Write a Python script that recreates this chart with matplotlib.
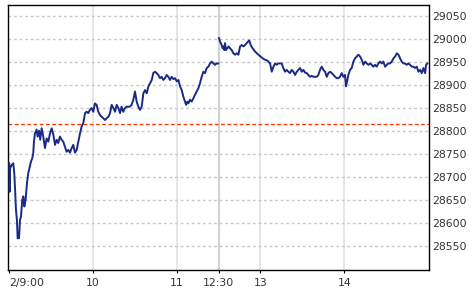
import matplotlib
matplotlib.use("Agg")
import matplotlib.pyplot as plt

# trading minutes since 9:00, lunch break (11:30-12:30) removed
minutes = [
    0, 0.3, 0.6, 1.7, 2.9, 3.6, 4.3, 4.8, 5.5, 6.0, 7.0, 7.7, 8.4, 9.3, 10.1,
    10.8, 11.7, 12.7, 13.6, 14.8, 15.6, 16.5, 17.2, 17.7, 18.4, 19.6, 20.3,
    21.3, 22.2, 23.2, 24.4, 25.6, 26.8, 28.0, 29.2, 30.4, 31.6, 32.8, 34.0,
    35.1, 36.3, 37.5, 38.7, 39.9, 41.1, 42.3, 43.5, 44.7, 45.9, 47.1, 48.3,
    49.5, 50.7, 51.9, 53.1, 54.3, 55.5, 56.6, 57.8, 59.0, 60.2, 61.4, 62.6,
    63.8, 65.0, 66.2, 67.4, 68.6, 69.8, 71.0, 72.2, 73.4, 74.6, 75.8, 77.0,
    78.2, 79.4, 80.5, 81.7, 82.9, 84.1, 85.3, 86.5, 87.7, 88.9, 90.1, 91.3,
    92.5, 93.7, 94.9, 96.1, 97.3, 98.5, 99.7, 100.9, 102.1, 103.2, 104.4,
    105.6, 106.8, 108.0, 109.2, 110.4, 111.6, 112.8, 114.0, 115.2, 116.4,
    117.6, 118.8, 120.0, 121.2, 122.4, 123.6, 124.7, 125.9, 126.7, 127.6,
    128.3, 129.5, 130.7, 131.9, 133.1, 134.3, 135.5, 136.7, 137.9, 139.1,
    140.3, 141.5, 142.7, 143.9, 145.1, 146.3, 147.5, 148.6, 149.8,
    150.3, 151.0, 152.2, 152.9, 153.4, 154.1, 154.6, 155.3, 156.3, 157.2,
    158.2, 159.4, 160.6, 161.8, 163.0, 164.2, 165.4, 166.6, 167.8, 169.0,
    170.1, 171.3, 172.0, 173.0, 174.4, 176.1, 177.8, 179.7, 181.6, 183.3,
    185.0, 186.9, 188.1, 189.3, 190.5, 191.6, 192.8, 195.2, 196.4, 197.6,
    198.8, 200.0, 201.2, 202.4, 203.6, 204.8, 206.0, 207.2, 208.4, 209.6,
    210.8, 212.0, 213.2, 214.3, 215.5, 216.7, 217.9, 219.1, 220.3, 221.5,
    222.7, 223.9, 225.1, 226.3, 227.5, 228.7, 229.9, 231.1, 232.3, 233.5,
    234.7, 235.8, 237.0, 238.2, 239.4, 240.6, 241.3, 242.3, 243.0, 244.2,
    245.4, 246.6, 247.8, 249.0, 250.2, 251.4, 252.6, 253.8, 255.0, 256.2,
    257.4, 258.6, 259.7, 260.9, 262.1, 263.3, 264.5, 265.7, 266.9, 268.1,
    269.3, 270.5, 271.7, 272.9, 274.1, 275.3, 276.5, 277.7, 278.9, 280.1,
    281.2, 282.4, 283.6, 284.8, 286.0, 287.2, 288.4, 289.6, 290.8, 292.0,
    293.2, 294.4, 295.6, 296.8, 298.0, 298.7, 299.6,
]
prices = [
    28729, 28667, 28718, 28725, 28729, 28707, 28664, 28628, 28606, 28566,
    28566, 28606, 28613, 28649, 28657, 28635, 28649, 28686, 28707, 28722,
    28733, 28740, 28751, 28776, 28794, 28802, 28787, 28800, 28780, 28805,
    28787, 28762, 28783, 28776, 28794, 28805, 28791, 28769, 28780, 28773,
    28787, 28780, 28776, 28765, 28754, 28758, 28752, 28762, 28769, 28752,
    28758, 28776, 28794, 28809, 28817, 28838, 28841, 28838, 28845, 28849,
    28841, 28859, 28856, 28841, 28834, 28830, 28827, 28823, 28827, 28830,
    28838, 28856, 28849, 28841, 28856, 28849, 28838, 28852, 28841, 28849,
    28852, 28852, 28852, 28856, 28867, 28885, 28863, 28852, 28845, 28852,
    28881, 28888, 28881, 28896, 28903, 28910, 28925, 28928, 28925, 28921,
    28914, 28917, 28910, 28914, 28921, 28917, 28910, 28917, 28912, 28914,
    28907, 28910, 28896, 28888, 28874, 28863, 28856, 28863, 28859, 28867,
    28863, 28870, 28878, 28885, 28892, 28903, 28917, 28928, 28925, 28936,
    28939, 28946, 28950, 28946, 28943, 28946, 28946,
    29001, 28994, 28986, 28979, 28983, 28975, 28990, 28975, 28979, 28983,
    28979, 28975, 28968, 28965, 28968, 28965, 28983, 28986, 28983, 28986,
    28990, 28994, 28996, 28986, 28979, 28972, 28967, 28962, 28957, 28954,
    28952, 28946, 28928, 28939, 28946, 28943, 28946, 28946, 28936, 28928,
    28932, 28928, 28925, 28932, 28928, 28921, 28928, 28932, 28936, 28928,
    28932, 28926, 28925, 28921, 28917, 28919, 28917, 28917, 28917, 28921,
    28932, 28939, 28932, 28928, 28917, 28925, 28928, 28925, 28921, 28917,
    28914, 28914, 28917, 28925, 28917, 28921, 28896, 28910, 28921, 28932,
    28936, 28950, 28957, 28961, 28965, 28961, 28954, 28943, 28950, 28946,
    28943, 28946, 28943, 28939, 28943, 28939, 28946, 28950, 28946, 28950,
    28939, 28943, 28946, 28946, 28950, 28957, 28961, 28968, 28965, 28957,
    28950, 28946, 28946, 28943, 28946, 28943, 28939, 28939, 28936, 28939,
    28928, 28932, 28925, 28936, 28925, 28943, 28946,
]
prev_close = 28814
x_ticks = [0, 60, 120, 150, 180, 240]
x_labels = ["2/9:00", "10", "11", "12:30", "13", "14"]
y_ticks = [28550, 28600, 28650, 28700, 28750, 28800, 28850, 28900, 28950, 29000, 29050]

# split into morning and afternoon sessions so the lunch gap isn't bridged
am_x = [m for m in minutes if m < 150.1]
am_y = prices[:len(am_x)]
pm_x = minutes[len(am_x):]
pm_y = prices[len(am_x):]

fig = plt.figure(figsize=(4.75, 2.94), dpi=100)
ax = fig.add_axes([8 / 475, 24 / 294, 421.3 / 475, 265 / 294])

for t in x_ticks[1:]:
    if t == 150:
        ax.axvline(t, color="#d2d2d2", lw=1.6, zorder=1)
    else:
        ax.axvline(t, color="#e2e2e2", lw=1.2, zorder=1)
for v in y_ticks:
    ax.axhline(v, color="#c8c8c8", lw=1.0, ls=(0, (2, 2)), zorder=1)

ax.axhline(prev_close, color="#ff3300", lw=0.9, ls=(0, (3, 2)), zorder=2)

ax.plot(am_x, am_y, color="#1a2a85", lw=1.4, zorder=3)
ax.plot(pm_x, pm_y, color="#1a2a85", lw=1.4, zorder=3)

ax.set_xlim(-0.9, 301)
ax.set_ylim(28497, 29073)

ax.set_xticks(x_ticks)
ax.set_xticklabels(x_labels)
ax.get_xticklabels()[0].set_horizontalalignment("left")
ax.tick_params(axis="x", length=2.5, width=0.8, pad=3, labelsize=7.8, labelcolor="#333333")

ax.yaxis.tick_right()
ax.set_yticks(y_ticks)
ax.tick_params(axis="y", length=0, pad=2, labelsize=7.8, labelcolor="#333333")

for s in ax.spines.values():
    s.set_color("black")
    s.set_linewidth(1.0)

fig.savefig("out.png", dpi=100)
